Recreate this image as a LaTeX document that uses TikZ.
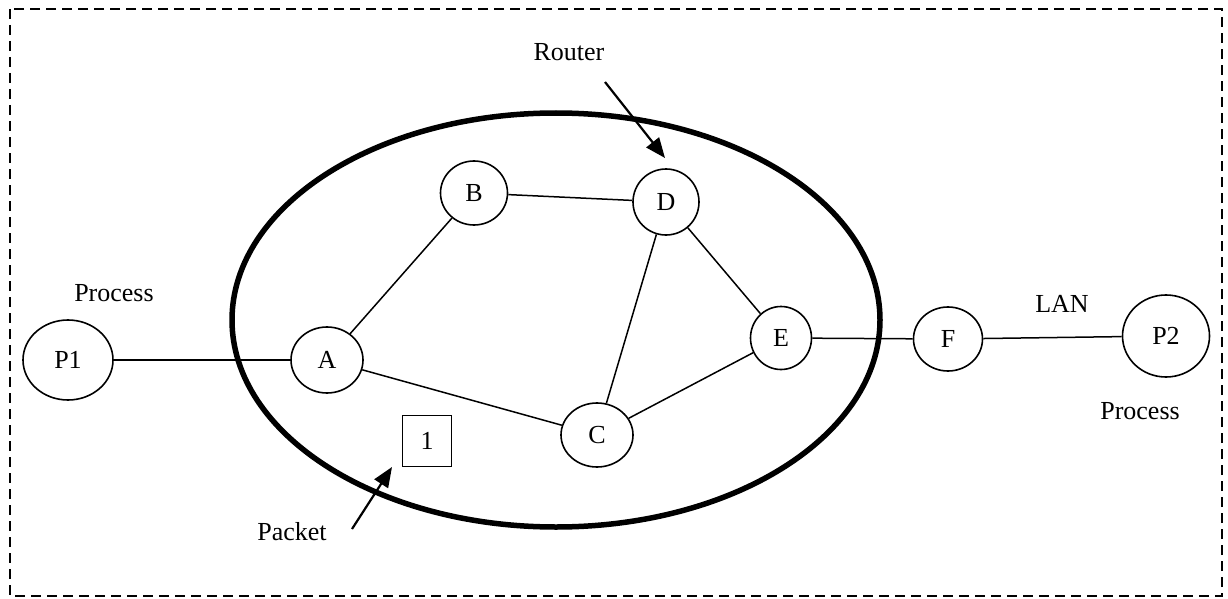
\documentclass[tikz,border=0pt]{standalone}
\usepackage{fontspec}
\setmainfont{Liberation Serif}
\usetikzlibrary{shapes.geometric,arrows.meta}
\tikzset{
  rnode/.style={draw, line width=1.6pt, shape=ellipse, inner sep=0pt, font=\fontsize{26}{31}\selectfont},
  lbl/.style={font=\fontsize{26}{31}\selectfont, inner sep=0pt},
  link/.style={line width=1.5pt},
  ptr/.style={line width=2.2pt, -{Triangle[length=20pt,width=16pt]}},
}
\begin{document}
\begin{tikzpicture}[x=1pt,y=-1pt]
\useasboundingbox (0,0) rectangle (1228,599);
\draw[line width=2.3pt, dash pattern=on 10pt off 6pt] (10,9) rectangle (1222,596);
\draw[line width=5.5pt] (556,320) ellipse [x radius=324, y radius=207];
\node[rnode, minimum width=90pt, minimum height=80pt] (P1) at (68,360) {P1};
\node[rnode, minimum width=72pt, minimum height=66pt] (A) at (327,360) {A};
\node[rnode, minimum width=67pt, minimum height=64pt] (B) at (474,193) {B};
\node[rnode, minimum width=66pt, minimum height=66pt] (D) at (666,202) {D};
\node[rnode, minimum width=72pt, minimum height=64pt] (C) at (597,435) {C};
\node[rnode, minimum width=61pt, minimum height=63pt] (E) at (781,338) {E};
\node[rnode, minimum width=69pt, minimum height=64pt] (F) at (948,339) {F};
\node[rnode, minimum width=87pt, minimum height=82pt] (P2) at (1166,336) {P2};
\node[draw, line width=1.6pt, minimum width=49pt, minimum height=51pt, inner sep=0pt, font=\fontsize{26}{31}\selectfont] (pk) at (427,441) {1};
\draw[link] (P1) -- (A);
\draw[link] (A) -- (B);
\draw[link] (A) -- (C);
\draw[link] (B) -- (D);
\draw[link] (D) -- (C);
\draw[link] (D) -- (E);
\draw[link] (C) -- (E);
\draw[link] (E) -- (F);
\draw[link] (F) -- (P2);
\node[lbl] (router) at (569,52) {Router};
\node[lbl] (proc1) at (114,293) {Process};
\node[lbl] (lan) at (1062,304) {LAN};
\node[lbl] (proc2) at (1140,411) {Process};
\node[lbl] (packet) at (292,532) {Packet};
\coordinate (rs) at (605,82);
\coordinate (re) at (665,158);
\coordinate (ps) at (352,529);
\coordinate (pe) at (392,467);
\draw[ptr] (rs) -- (re);
\draw[ptr] (ps) -- (pe);
\end{tikzpicture}
\end{document}
